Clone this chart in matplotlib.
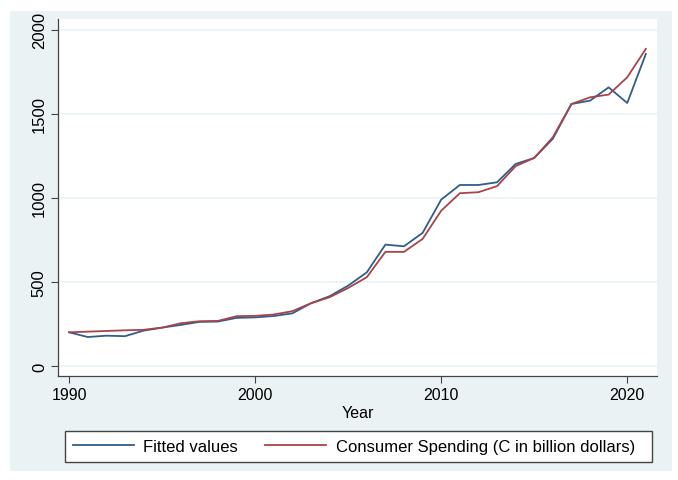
import matplotlib.pyplot as plt
from matplotlib.patches import Rectangle

plt.rcParams['font.family'] = ['Liberation Sans', 'DejaVu Sans']

# данные
years = list(range(1990, 2022))
fitted = [200, 172, 180, 177, 210, 228, 244, 262, 264, 286,
          289, 297, 313, 373, 415, 478, 557, 722, 712, 792,
          990, 1077, 1077, 1093, 1202, 1238, 1352, 1559, 1579, 1658,
          1565, 1857]
spending = [200, 204, 208, 212, 215, 228, 254, 266, 268, 296,
            298, 306, 326, 373, 409, 464, 528, 679, 679, 756,
            924, 1028, 1034, 1070, 1189, 1238, 1361, 1559, 1599, 1615,
            1718, 1887]
y_ticks = [0, 500, 1000, 1500, 2000]
x_ticks = [1990, 2000, 2010, 2020]

bg = '#eaf2f3'
fig = plt.figure(figsize=(6.78, 4.81), dpi=100)
fig.patch.set_facecolor('white')
fig.patches.append(Rectangle((10 / 678, 9 / 481), 662 / 678, 460 / 481,
                             transform=fig.transFigure, facecolor=bg,
                             edgecolor='none', zorder=-10))
# рамка легенды
fig.patches.append(Rectangle((65 / 678, 18 / 481), 587 / 678, 31 / 481,
                             transform=fig.transFigure, facecolor='white',
                             edgecolor='#444444', lw=1.0, zorder=-5))

ax = fig.add_axes([58 / 678, 104 / 481, 599 / 678, 357 / 481])
ax.set_facecolor('white')

ax.plot(years, fitted, color='#2e5e8a', lw=1.3, label='Fitted values')
ax.plot(years, spending, color='#a8434a', lw=1.3,
        label='Consumer Spending (C in billion dollars)')

ax.set_xlim(1989.4, 2021.6)
ax.set_ylim(-60, 2065)
ax.set_xticks(x_ticks)
ax.set_yticks(y_ticks)
ax.set_yticklabels([str(v) for v in y_ticks], rotation=90, va='center')
ax.tick_params(axis='x', labelsize=11.5, length=5, color='#444444', pad=3)
ax.tick_params(axis='y', labelsize=12, length=5, color='#444444', pad=3)
ax.grid(axis='y', color=bg, lw=1.2)
ax.set_axisbelow(True)
for s in ['top', 'right']:
    ax.spines[s].set_visible(False)
for s in ['left', 'bottom']:
    ax.spines[s].set_color('#444444')
    ax.spines[s].set_linewidth(0.9)

ax.set_xlabel('Year', fontsize=11.5, labelpad=2)

fig.legend(loc='center left', ncol=2,
           bbox_to_anchor=(65 / 678, 33.5 / 481),
           borderaxespad=0, fontsize=12, frameon=False,
           handlelength=3.7, handletextpad=0.55, columnspacing=1.6,
           borderpad=0.45)

fig.savefig('out.png', dpi=100, facecolor='white')
